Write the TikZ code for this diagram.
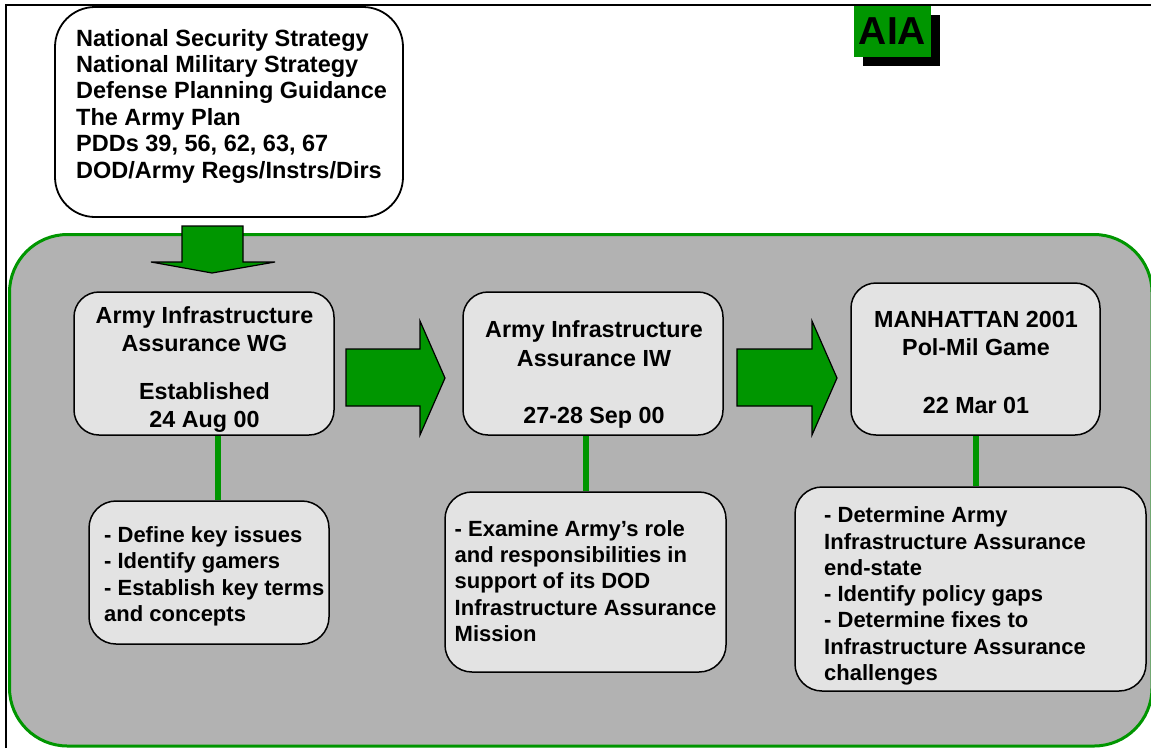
\documentclass[tikz,border=0pt]{standalone}
\usepackage{fontspec}
\setmainfont{Liberation Sans}
\usetikzlibrary{shadows}
\definecolor{pgreen}{HTML}{009600}
\definecolor{panel}{HTML}{B2B2B2}
\definecolor{boxfill}{HTML}{E3E3E3}
\begin{document}
\begin{tikzpicture}[x=1pt,y=-1pt,
  frameline/.style={line width=1.8pt},
  panelbox/.style={draw=pgreen, line width=3pt, fill=panel, rounded corners=58pt},
  srcbox/.style={draw, line width=1.8pt, fill=white, rounded corners=40pt, minimum width=348pt, minimum height=210pt, inner sep=0pt},
  stagebox/.style={draw, line width=1.5pt, fill=boxfill, rounded corners=25pt, inner sep=0pt},
  notebox/.style={draw, line width=1.5pt, fill=boxfill, rounded corners=27pt, inner sep=0pt},
  bigarrow/.style={draw, line width=1.2pt, fill=pgreen, line join=miter},
  conn/.style={draw=pgreen, line width=6pt},
  srctext/.style={font=\fontsize{23.5}{26.4}\selectfont\bfseries, align=left, anchor=base west, inner sep=0pt},
  stagetext/.style={font=\fontsize{23.3}{28.5}\selectfont\bfseries, align=center, anchor=base, inner sep=0pt},
  notetext/.style={font=\fontsize{22}{26.3}\selectfont\bfseries, align=left, anchor=base west, inner sep=0pt},
  logo/.style={fill=pgreen, minimum width=77pt, minimum height=51pt, inner sep=0pt,
    font=\fontsize{39}{39}\selectfont\bfseries,
    drop shadow={shadow xshift=9pt, shadow yshift=-9pt, fill=black, opacity=1}}
]
\useasboundingbox (0,0) rectangle (1151,748);
\fill[white] (0,0) rectangle (1151,748);

% frame
\draw[frameline] (6,748) -- (6,5) -- (1151,5);

% logo
\node[logo] (aia) at (892.5,31.5) {AIA};

% panel
\draw[panelbox] (9.5,234.5) rectangle (1152,746);

% source box (text anchored at the baseline of its last line)
\node[srcbox] (src) at (229,112) {};
\node[srctext] (srct) at (76,178) {National Security Strategy\\National Military Strategy\\Defense Planning Guidance\\The Army Plan\\PDDs 39, 56, 62, 63, 67\\DOD/Army Regs/Instrs/Dirs};

% arrows
\draw[bigarrow] (182,226) -- (243,226) -- (243,262) -- (275,262) -- (212,273) -- (151,262) -- (182,262) -- cycle;
\draw[bigarrow] (346,349) -- (420,349) -- (420,321) -- (445,378) -- (420,435) -- (420,406) -- (346,406) -- cycle;
\draw[bigarrow] (737,349) -- (812,349) -- (812,321) -- (837,378) -- (812,435) -- (812,406) -- (737,406) -- cycle;

% stage boxes
\node[stagebox, minimum width=260pt, minimum height=143pt] (b1) at (204,363.5) {};
\node[stagebox, minimum width=260pt, minimum height=143pt] (b2) at (593,363.5) {};
\node[stagebox, minimum width=249pt, minimum height=152pt] (b3) at (975.5,359) {};
\node[stagetext] (b1t) at (204.5,427.5) {Army Infrastructure\\Assurance WG\\[19pt]Established\\24 Aug 00};
\node[stagetext] (b2t) at (594,423) {Army Infrastructure\\Assurance IW\\[28.5pt]27-28 Sep 00};
\node[stagetext] (b3t) at (976,413) {MANHATTAN 2001\\Pol-Mil Game\\[29pt]22 Mar 01};

% note boxes
\node[notebox, minimum width=240pt, minimum height=143pt] (d1) at (209,572.5) {};
\node[notebox, minimum width=281pt, minimum height=180pt] (d2) at (585.5,582) {};
\node[notebox, minimum width=351pt, minimum height=204pt] (d3) at (970.5,589) {};
\node[notetext] (d1t) at (104,621.5) {- Define key issues\\- Identify gamers\\- Establish key terms\\and concepts};
\node[notetext] (d2t) at (454.5,641.5) {- Examine Army’s role\\and responsibilities in\\support of its DOD\\Infrastructure Assurance\\Mission};
\node[notetext] (d3t) at (824,680.5) {- Determine Army\\Infrastructure Assurance\\end-state\\- Identify policy gaps\\- Determine fixes to\\Infrastructure Assurance\\challenges};

% connectors
\draw[conn] ([xshift=13.5pt]b1.south) -- ([xshift=8.5pt]d1.north);
\draw[conn] ([xshift=-7pt]b2.south) -- ([xshift=0.5pt]d2.north);
\draw[conn] (b3.south) -- ([xshift=5pt]d3.north);
\end{tikzpicture}
\end{document}
